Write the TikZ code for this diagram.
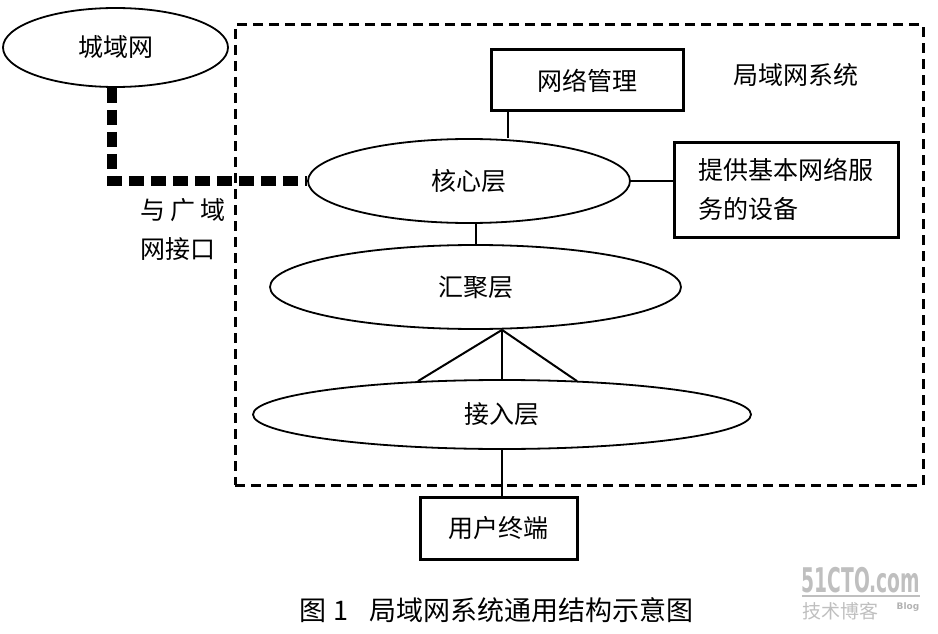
\documentclass[tikz,border=0pt]{standalone}
\usepackage{fontspec}
\setmainfont{Noto Sans CJK SC}
\newfontfamily\markfont{DejaVu Sans}
\usetikzlibrary{shapes.geometric,calc}
\tikzset{
    layer oval/.style={ellipse,draw,line width=1.8pt,inner sep=0pt},
    dev box/.style={rectangle,draw,line width=3pt,inner sep=0pt},
    sys frame/.style={rectangle,draw,line width=3pt,dash pattern=on 10pt off 6pt,inner sep=0pt},
    link/.style={line width=2pt},
    wan link/.style={line width=10pt,dash pattern=on 15pt off 7pt},
    every node/.style={font=\fontsize{25}{39}\selectfont}
}

\begin{document}
\begin{tikzpicture}[x=1pt,y=-1pt]
    \useasboundingbox (0,0) rectangle (938,634);
    % LAN system frame
    \node[sys frame,minimum width=688,minimum height=460] (lan) at (579,255) {};
    \node (lantitle) at (796,75) {局域网系统};

    \node[layer oval,minimum width=225,minimum height=79] (man) at (115.5,47.5) {城域网};
    \node[dev box,minimum width=192,minimum height=61] (mgmt) at (587,80.5) {网络管理};
    \node[layer oval,minimum width=322,minimum height=84] (core) at (469,181) {核心层};
    \node[dev box,minimum width=224,minimum height=95,align=left] (svc) at (786,189.5)
        {提供基本网络服\\务的设备};
    \node[layer oval,minimum width=411,minimum height=84] (agg) at (475.5,287) {汇聚层};
    \node[layer oval,minimum width=498,minimum height=69] (acc) at (502,414.5) {接入层};
    \node[dev box,minimum width=157,minimum height=62] (user) at (498.5,528) {用户终端};
    \node[anchor=west,align=left,inner sep=0pt] (wanif) at (140,230)
        {与\hspace{5pt}广\hspace{5pt}域\\网接口};

    % connectors
    \coordinate (wanbend) at (112,181);
    \draw[wan link] (man.south -| wanbend) -- (wanbend) -- (core.west);
    \coordinate (mgmtfoot) at (508,111);
    \draw[link,line width=2.6pt] (mgmtfoot) -- (mgmtfoot |- core.north);
    \draw[link] (core.east) -- (core.east -| svc.west);
    \draw[link] (agg.north |- core.south) -- (agg.north);
    \coordinate (aggfoot) at (agg.south -| acc.north);
    \foreach \dx/\dy in {-84/2,0/0,75/2}
        \draw[link] (aggfoot) -- ($(acc.north)+(\dx,\dy)$);
    \draw[link,line width=2.6pt] (acc.south) -- (acc.south |- user.north);

    \node (caption) at (497,610) {\fontsize{27}{30}\selectfont 图 1\hspace{22pt}局域网系统通用结构示意图};

    % watermark
    \node[text=black!25,xscale=0.55,inner sep=0pt] (mark) at (861,580)
        {\markfont\bfseries\fontsize{34}{34}\selectfont 51CTO.com};
    \draw[black!25,line width=1.5pt] (802,596) -- (920,596);
    \node[text=black!25,anchor=west,inner sep=0pt] (markcn) at (802,611)
        {\fontsize{19}{19}\selectfont 技术博客};
    \node[text=black!30,inner sep=0pt] (markblog) at (908,607)
        {\markfont\bfseries\fontsize{9}{9}\selectfont Blog};
\end{tikzpicture}
\end{document}
